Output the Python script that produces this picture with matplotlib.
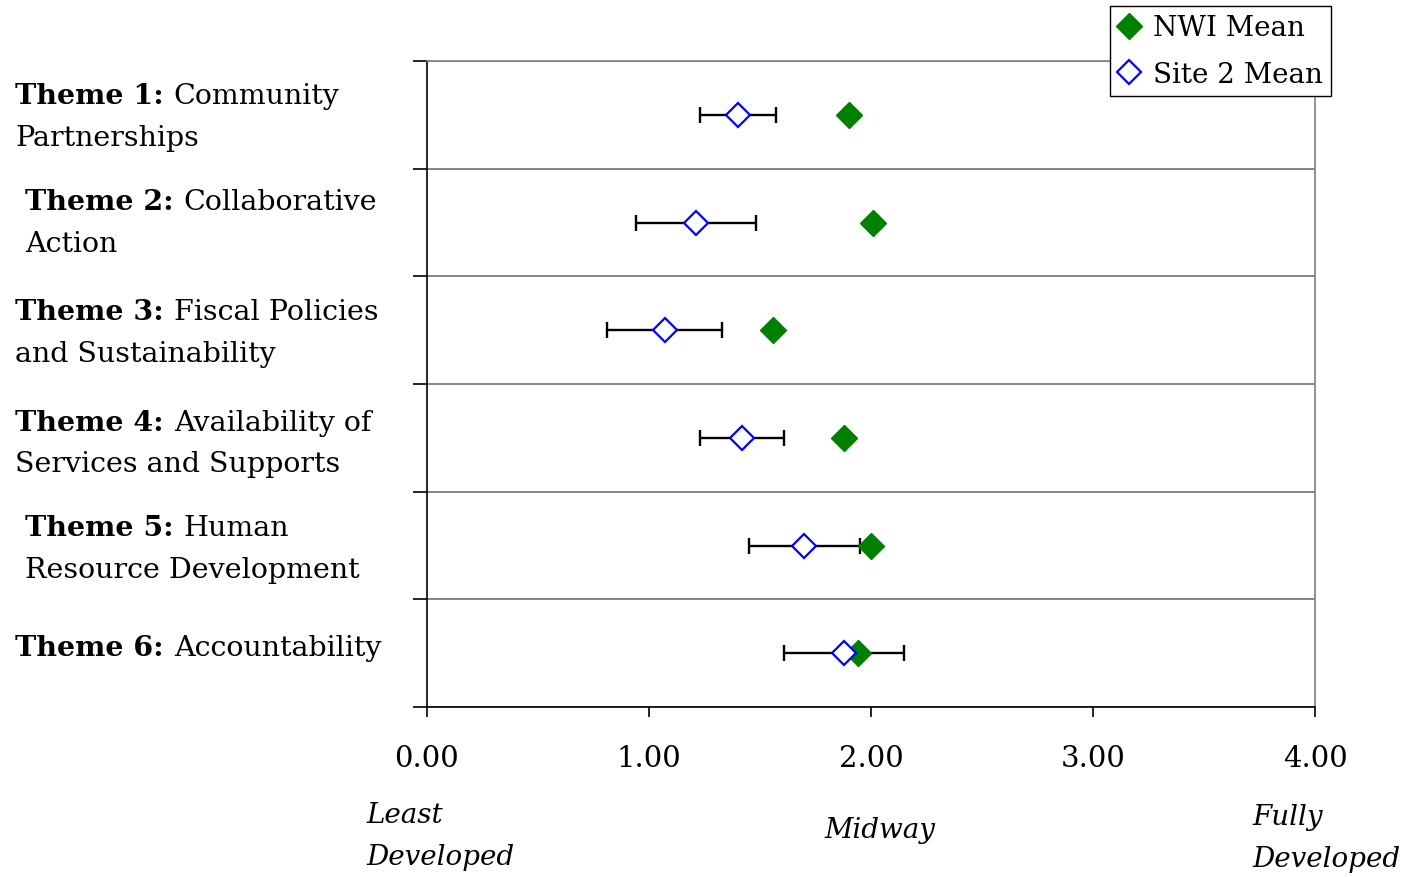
import matplotlib
matplotlib.use("Agg")
import matplotlib.pyplot as plt
from matplotlib.lines import Line2D

plt.rcParams['font.family'] = ['DejaVu Serif']

# data
themes_bold = ["Theme 1:", "Theme 2:", "Theme 3:", "Theme 4:", "Theme 5:", "Theme 6:"]
themes_rest = [["Community", "Partnerships"],
               ["Collaborative", "Action"],
               ["Fiscal Policies", "and Sustainability"],
               ["Availability of", "Services and Supports"],
               ["Human", "Resource Development"],
               ["Accountability"]]
nwi_mean = [1.90, 2.01, 1.56, 1.88, 2.00, 1.94]
site2_mean = [1.40, 1.21, 1.07, 1.42, 1.70, 1.88]
site2_err = [0.17, 0.27, 0.26, 0.19, 0.25, 0.27]
xticks = [0, 1, 2, 3, 4]
xtick_labels = ["0.00", "1.00", "2.00", "3.00", "4.00"]

W, H = 1408, 878
fig = plt.figure(figsize=(W / 100, H / 100), dpi=100)
ax = fig.add_axes([427 / W, 1 - 708 / H, (1315 - 427) / W, (708 - 62) / H])

n = len(nwi_mean)
ypos = [n - 0.5 - i for i in range(n)]

ax.errorbar(site2_mean, ypos, xerr=site2_err, fmt="none", ecolor="black",
            elinewidth=1.7, capsize=6, capthick=1.7, zorder=3)
ax.plot(nwi_mean, ypos, ls="none", marker="D", ms=13, mfc="green",
        mec="green", zorder=4)
ax.plot(site2_mean, ypos, ls="none", marker="D", ms=12, mfc="white",
        mec="blue", mew=1.6, zorder=5)

ax.set_xlim(0, 4)
ax.set_ylim(0, n)
ax.set_xticks(xticks)
ax.set_xticklabels(xtick_labels, fontsize=21)
ax.set_yticks(range(n + 1))
ax.set_yticklabels([])
ax.tick_params(axis="y", direction="out", length=10, width=1.2, color="black")
ax.tick_params(axis="x", direction="out", length=7, width=1.2, pad=20)
ax.grid(axis="y", color="#707070", lw=1.2)
ax.set_axisbelow(True)
for s in ["top", "right"]:
    ax.spines[s].set_color("#808080")
    ax.spines[s].set_linewidth(1.2)
for s in ["left", "bottom"]:
    ax.spines[s].set_color("black")
    ax.spines[s].set_linewidth(1.2)

# theme labels: bold prefix + regular text
label_x = [15, 25, 15, 15, 25, 15]
label_y = [97, 203, 313, 424, 529, 648]
fs = 20.5
fig.canvas.draw()
renderer = fig.canvas.get_renderer()
for i in range(n):
    x0 = label_x[i] / W
    y0 = 1 - label_y[i] / H
    tb = fig.text(x0, y0, themes_bold[i], fontsize=fs, fontweight="bold",
                  va="center", ha="left")
    bb = tb.get_window_extent(renderer)
    fig.text((bb.x1 + 10) / W, y0, themes_rest[i][0], fontsize=fs,
             va="center", ha="left")
    if len(themes_rest[i]) > 1:
        fig.text(x0, y0 - 41 / H, themes_rest[i][1], fontsize=fs,
                 va="center", ha="left")

# scale anchor labels (first line at given y, second line 42 px lower)
fs_it = 20
for txt, x, y in [("Least\nDeveloped", 366, 816), ("Midway", 824, 831),
                  ("Fully\nDeveloped", 1252, 818)]:
    lines = txt.split("\n")
    for k, line in enumerate(lines):
        fig.text(x / W, 1 - (y + 42 * k) / H, line, fontsize=fs_it,
                 style="italic", va="center", ha="left")

handles = [Line2D([], [], ls="none", marker="D", ms=13, mfc="green", mec="green"),
           Line2D([], [], ls="none", marker="D", ms=12, mfc="white", mec="blue",
                  mew=1.6)]
leg = fig.legend(handles, ["NWI Mean", "Site 2 Mean"], loc="upper right",
                 bbox_to_anchor=(1331 / W, 1 - 7 / H), fontsize=20,
                 fancybox=False, edgecolor="black", framealpha=1,
                 handlelength=0.8, handletextpad=0.45, borderpad=0.3,
                 labelspacing=0.7, borderaxespad=0)
leg.get_frame().set_linewidth(1.0)

fig.savefig("out.png", dpi=100)
